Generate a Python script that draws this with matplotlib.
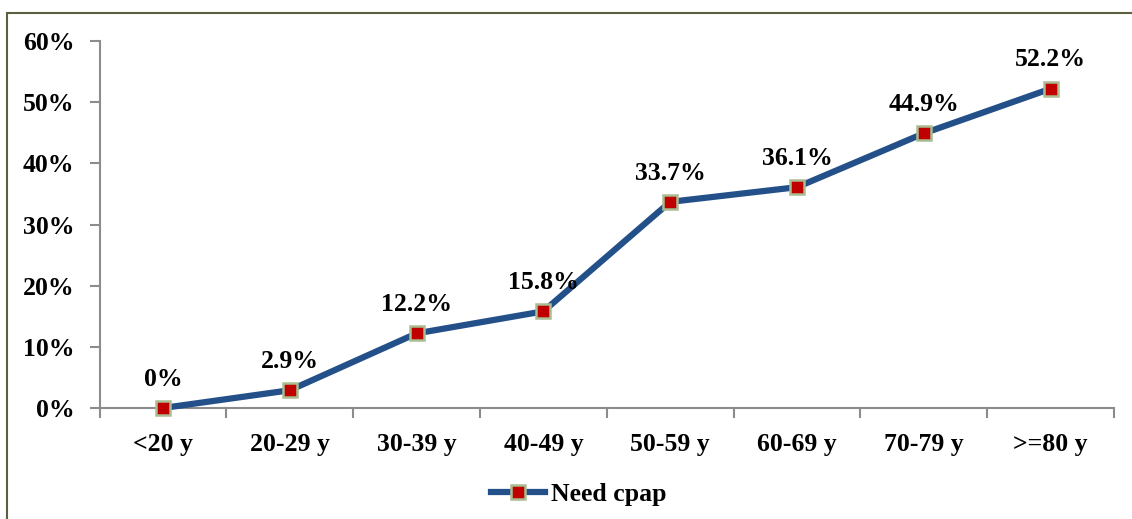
import matplotlib
matplotlib.use("Agg")
import matplotlib.pyplot as plt
from matplotlib.patches import Rectangle
from matplotlib.ticker import FuncFormatter

categories = ["<20 y", "20-29 y", "30-39 y", "40-49 y", "50-59 y", "60-69 y", "70-79 y", ">=80 y"]
need_cpap = [0.0, 2.9, 12.2, 15.8, 33.7, 36.1, 44.9, 52.2]
value_labels = ["0%", "2.9%", "12.2%", "15.8%", "33.7%", "36.1%", "44.9%", "52.2%"]
y_ticks = [0, 10, 20, 30, 40, 50, 60]

plt.rcParams["font.family"] = ["Liberation Serif", "DejaVu Serif"]
plt.rcParams["font.weight"] = "bold"
FS = 18.5

fig = plt.figure(figsize=(11.32, 5.19), dpi=100)
# outer chart-area frame
fig.patches.append(Rectangle((7 / 1132, -0.01), 1.2, (519 - 13) / 519 + 0.01,
                             transform=fig.transFigure, fill=False,
                             edgecolor="#5a6040", linewidth=1.5))

ax = fig.add_axes([99.6 / 1132, (519 - 408) / 519, (1114 - 99.6) / 1132, (408 - 41) / 519])
x = list(range(len(categories)))
line, = ax.plot(x, need_cpap, color="#245089", linewidth=4.5, marker="s", markersize=10,
                markerfacecolor="#C00000", markeredgecolor="#A9BC92", markeredgewidth=1.8,
                label="Need cpap", zorder=3, clip_on=False)

for xi, v, lab in zip(x, need_cpap, value_labels):
    ax.annotate(lab, (xi, v), xytext=(0, 12.5), textcoords="offset points",
                ha="center", va="bottom", fontsize=FS, fontweight="bold")

ax.set_xlim(-0.5, len(categories) - 0.5)
ax.set_ylim(0, 60)
ax.set_yticks(y_ticks)
ax.yaxis.set_major_formatter(FuncFormatter(lambda v, p: f"{int(v)}%"))
ax.set_xticks(x)
ax.set_xticklabels(categories)
ax.set_xticks([i - 0.5 for i in range(len(categories) + 1)], minor=True)

for s in ["top", "right"]:
    ax.spines[s].set_visible(False)
for s in ["left", "bottom"]:
    ax.spines[s].set_color("#8c8c8c")
    ax.spines[s].set_linewidth(1.5)

ax.tick_params(axis="y", direction="out", length=7, width=1.5, color="#8c8c8c",
               labelsize=FS, pad=11)
ax.tick_params(axis="x", which="major", length=0, labelsize=FS, pad=18)
ax.tick_params(axis="x", which="minor", direction="out", length=7, width=1.5, color="#8c8c8c")
for t in ax.get_xticklabels() + ax.get_yticklabels():
    t.set_fontweight("bold")

leg = fig.legend(handles=[line], loc="center", bbox_to_anchor=(579 / 1132, (519 - 494) / 519),
                 frameon=False, prop={"size": FS, "weight": "bold"}, handlelength=2.1,
                 handletextpad=0.25)

fig.savefig("out.png", dpi=100)
